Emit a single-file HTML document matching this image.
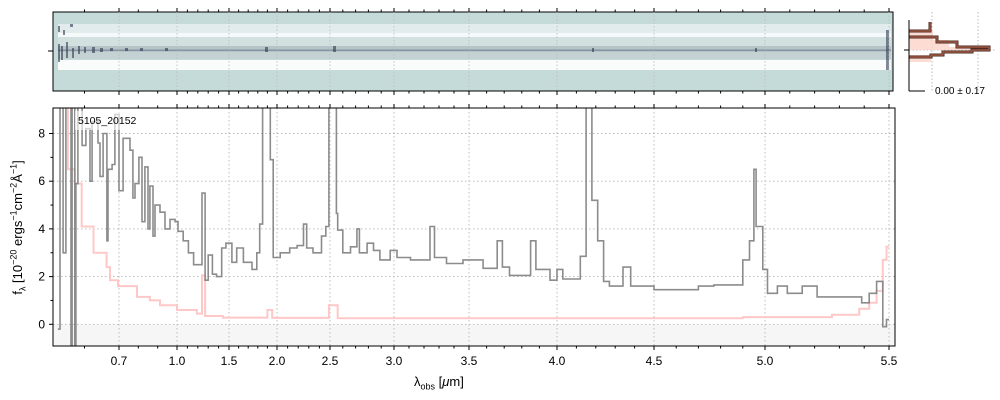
<!DOCTYPE html>
<html><head><meta charset="utf-8">
<style>
html,body{margin:0;padding:0;background:#fff;}
svg{display:block;font-family:"Liberation Sans","DejaVu Sans",sans-serif;}
</style></head>
<body>
<svg id="chart" width="1000" height="400" viewBox="0 0 1000 400"></svg>
<script>
const tickLabels = ["0.7","1.0","1.5","2.0","2.5","3.0","3.5","4.0","4.5","5.0","5.5"];
const tickValues = [0.7,1.0,1.5,2.0,2.5,3.0,3.5,4.0,4.5,5.0,5.5];
const yTicks = [0,2,4,6,8];
const fluxWave = [0.523,0.529,0.538,0.546,0.561,0.564,0.572,0.575,0.581,0.593,0.604,0.616,0.622,0.639,0.645,0.654,0.665,0.668,0.680,0.688,0.700,0.721,0.757,0.772,0.783,0.803,0.819,0.834,0.850,0.860,0.876,0.886,0.912,0.938,0.964,0.990,1.01,1.06,1.11,1.16,1.24,1.27,1.30,1.34,1.38,1.43,1.47,1.53,1.58,1.65,1.74,1.79,1.82,1.85,1.93,1.96,2.03,2.12,2.19,2.25,2.28,2.34,2.42,2.46,2.49,2.55,2.56,2.60,2.66,2.71,2.73,2.79,2.84,2.89,2.97,3.02,3.11,3.24,3.27,3.35,3.46,3.58,3.66,3.69,3.73,3.85,3.88,3.96,4.00,4.03,4.12,4.15,4.18,4.21,4.24,4.27,4.34,4.38,4.50,4.70,4.77,4.90,4.93,4.95,4.96,4.99,5.01,5.05,5.09,5.15,5.21,5.39,5.42,5.45,5.475,5.49,5.50];
const fluxVals = [-0.2,9.5,3.0,9.5,-1.0,9.5,-1.0,5.9,9.5,7.5,8.2,6.0,8.5,7.6,6.2,8.0,3.5,6.5,6.7,8.8,5.6,7.8,7.3,5.3,5.9,7.0,4.3,6.6,4.0,5.8,3.7,5.0,4.7,4.0,4.4,4.3,3.9,3.5,3.0,2.5,5.5,1.85,2.9,2.1,2.0,3.2,3.4,2.6,3.2,2.6,2.3,3.0,4.2,9.5,6.9,2.8,3.0,3.2,3.3,4.2,3.2,3.0,3.7,4.1,9.5,4.65,3.95,3.0,3.25,4.0,3.0,3.4,3.1,2.7,3.1,2.8,2.7,4.1,2.8,2.55,2.7,2.35,3.5,2.4,2.05,3.5,2.3,1.85,2.3,1.9,2.85,9.5,5.2,3.5,1.8,1.6,2.4,1.6,1.45,1.6,1.65,2.7,3.5,6.5,4.1,2.3,1.3,1.6,1.3,1.6,1.15,0.9,1.3,1.8,-0.1,0.2,0.2];
const errWave = [0.53,0.552,0.572,0.592,0.626,0.664,0.674,0.697,0.793,0.86,0.912,1.0,1.19,1.24,1.27,1.44,1.9,1.95,2.49,2.56,3.5,4.2,4.9,5.27,5.38,5.42,5.45,5.475,5.49,5.50];
const errVals = [9.5,6.5,5.9,4.1,3.0,2.4,1.85,1.6,1.15,1.0,0.8,0.6,0.45,2.05,0.35,0.28,0.6,0.27,0.8,0.25,0.25,0.25,0.3,0.4,0.65,0.9,1.4,2.7,3.25,3.25];

const NS="http://www.w3.org/2000/svg";
const svg=document.getElementById('chart');
function el(tag,attrs,parent){const e=document.createElementNS(NS,tag);for(const k in attrs)e.setAttribute(k,attrs[k]);(parent||svg).appendChild(e);return e;}

const knotW=[0.5,0.7,1.0,1.5,2.0,2.5,3.0,3.5,4.0,4.5,5.0,5.5,5.53];
const knotX=[50,119,177,229,277,330,394,469,557,654,765,889,895];
function xs(w){
  if(w<=knotW[0])return knotX[0];
  for(let i=0;i<knotW.length-1;i++){if(w<=knotW[i+1]){const t=(w-knotW[i])/(knotW[i+1]-knotW[i]);return knotX[i]+t*(knotX[i+1]-knotX[i]);}}
  return knotX[knotX.length-1];
}
const L=53,R=895,T=108,B=346;
function ys(v){return 324.3-v*23.85;}

const defs=el('defs',{});
const cp=el('clipPath',{id:'clipMain'},defs);
el('rect',{x:L,y:T,width:R-L,height:B-T},cp);

// ===== TOP PANEL =====
const topPanel=el('g',{});


el('rect',{x:53,y:12,width:840,height:79,fill:'#c5dbd9'},topPanel);
el('rect',{x:58,y:24,width:833,height:9,fill:'#e2ecec'},topPanel);
el('rect',{x:58,y:33,width:833,height:4,fill:'#f6f9f9'},topPanel);
el('rect',{x:58,y:37,width:833,height:9,fill:'#d3e0e0'},topPanel);
el('rect',{x:58,y:46,width:833,height:6,fill:'#b4c4c7'},topPanel);
el('rect',{x:58,y:49.5,width:833,height:1.5,fill:'#8795a3'},topPanel);
el('rect',{x:58,y:52,width:833,height:7,fill:'#c4d2d3'},topPanel);
el('rect',{x:58,y:60,width:833,height:10,fill:'#fafcfc'},topPanel);
const speck=[[58,26,2,6],[63,30,2,5],[70,24,3,3],[58,44,2,18],[61,46,2,14],[66,42,2,16],[72,48,2,10],[78,46,2,8],[84,47,2,6],[92,47,3,6],[100,48,3,4],[110,48,3,3],[125,48,3,3],[140,48,3,3],[165,48,3,3],[265,47,3,5],[333,46,3,6],[592,48,2,4],[755,48,2,4],[886,30,3,40]];
speck.forEach(s=>{el('rect',{x:s[0],y:s[1],width:s[2],height:s[3],fill:'#2e3850',opacity:0.6},topPanel);});
el('rect',{x:53,y:12,width:840,height:79,fill:'none',stroke:'#000','stroke-width':1},topPanel);
[119,177,229,277,330,394,469,557,654,765,889].forEach(x=>{el('line',{x1:x,x2:x,y1:12,y2:91,stroke:'#bbb','stroke-dasharray':'1.5,2','stroke-width':0.8},topPanel);});
el('line',{x1:48,x2:53,y1:51,y2:51,stroke:'#000'},topPanel);

// ===== RIGHT HISTOGRAM PANEL =====
const hp=el('g',{});


el('line',{x1:932,x2:932,y1:12,y2:91,stroke:'#bbb','stroke-dasharray':'1.5,2'},hp);
el('line',{x1:978,x2:978,y1:12,y2:91,stroke:'#bbb','stroke-dasharray':'1.5,2'},hp);
el('line',{x1:909,x2:995,y1:50,y2:50,stroke:'#bbb','stroke-dasharray':'1.5,2'},hp);
el('path',{d:'M909,31 H933 V40 H949 V47 H988 V50 H909 Z M909,55 H931 V62 H909 Z',fill:'#fbd3c8',opacity:0.8},hp);
el('path',{d:'M930,22 V31 H909 M909,37 H937 V42 H957 V47 H989 V50 H972 V52 H943 V55 H931 V57 H909',fill:'none',stroke:'#4a2a22','stroke-width':3},hp);
el('path',{d:'M930,22 V31 H909 M909,37 H937 V42 H957 V47 H989 V50 H972 V52 H943 V55 H931 V57 H909',fill:'none',stroke:'#b0604a','stroke-width':1.2},hp);
el('line',{x1:909,x2:909,y1:20,y2:91,stroke:'#000'},hp);
el('line',{x1:909,x2:925,y1:91,y2:91,stroke:'#000'},hp);
el('line',{x1:904,x2:909,y1:50,y2:50,stroke:'#000'},hp);
const ht=el('text',{x:935,y:94,'font-size':10,fill:'#000'},hp);ht.textContent='0.00 ± 0.17';



// ===== MAIN PANEL =====
const mainG=el('g',{});


el('rect',{x:L,y:ys(0),width:R-L,height:B-ys(0),fill:'#f6f6f6'},mainG);
tickValues.forEach(v=>{el('line',{x1:xs(v),x2:xs(v),y1:T,y2:B,stroke:'#b5b5b5','stroke-dasharray':'1.5,2.5','stroke-width':0.9},mainG);});
yTicks.forEach(v=>{el('line',{x1:L,x2:R,y1:ys(v),y2:ys(v),stroke:'#b5b5b5','stroke-dasharray':'1.5,2.5','stroke-width':0.9},mainG);});

function stepPath(ws,vs){
  let d='';
  for(let i=0;i<ws.length;i++){
    const x=xs(ws[i]).toFixed(1);const y=ys(vs[i]).toFixed(1);
    if(i===0)d+='M'+x+','+y;else{d+=' H'+x+' V'+y;}
  }
  return d;
}
const g1=el('g',{'clip-path':'url(#clipMain)'},mainG);
const ep=el('path',{d:stepPath(errWave,errVals),fill:'none',stroke:'#ffc2c2','stroke-width':2,opacity:0.9},g1);


const fp=el('path',{d:stepPath(fluxWave,fluxVals),fill:'none',stroke:'#808080','stroke-width':1.6,opacity:0.9},g1);



el('rect',{x:75,y:111,width:72,height:19,fill:'#fff',opacity:0.6},mainG);
const lt=el('text',{x:78,y:124,'font-size':10.5,fill:'#000'},mainG);lt.textContent='5105_20152';



el('rect',{x:L,y:T,width:R-L,height:B-T,fill:'none',stroke:'#000','stroke-width':1},mainG);

function minorList(){const a=[];for(let w=0.6;w<=5.501;w+=0.1){const r=Math.round(w*10)/10;if(!tickValues.includes(r))a.push(r);}return a;}
const minors=minorList();
[[T,-1],[B,1],[91,1],[12,-1]].forEach(([y0,dir])=>{
  tickValues.forEach(v=>{el('line',{x1:xs(v),x2:xs(v),y1:y0,y2:y0+dir*4,stroke:'#000'});});
  minors.forEach(v=>{el('line',{x1:xs(v),x2:xs(v),y1:y0,y2:y0+dir*2.5,stroke:'#000'});});
});
tickValues.forEach((v,i)=>{
  const t=el('text',{x:xs(v),y:365,'font-size':12,'text-anchor':'middle',fill:'#000'});
  t.textContent=tickLabels[i];
  
  
});
yTicks.forEach(v=>{
  el('line',{x1:L-4,x2:L,y1:ys(v),y2:ys(v),stroke:'#000'});
  const t=el('text',{x:45,y:ys(v)+4,'font-size':12,'text-anchor':'end',fill:'#000'});
  t.textContent=String(v);
  
  
});
[1,3,5,7].forEach(v=>{el('line',{x1:L-2.5,x2:L,y1:ys(v),y2:ys(v),stroke:'#000'});});
</script>
<div style="position:absolute;left:0;top:0;width:1000px;height:400px;pointer-events:none">
  <div style="position:absolute;left:414px;top:374px;font:13px 'Liberation Sans',sans-serif;">λ<sub style="font-size:9px">obs</sub> [<i>μ</i>m]</div>
  <div style="position:absolute;left:-92px;top:218px;width:220px;text-align:center;transform:rotate(-90deg);font:13px 'Liberation Sans',sans-serif;white-space:nowrap;">f<sub style="font-size:9px">λ</sub> [10<sup style="font-size:9px">−20</sup> ergs<sup style="font-size:9px">−1</sup>cm<sup style="font-size:9px">−2</sup>Å<sup style="font-size:9px">−1</sup>]</div>
</div>
</body></html>
